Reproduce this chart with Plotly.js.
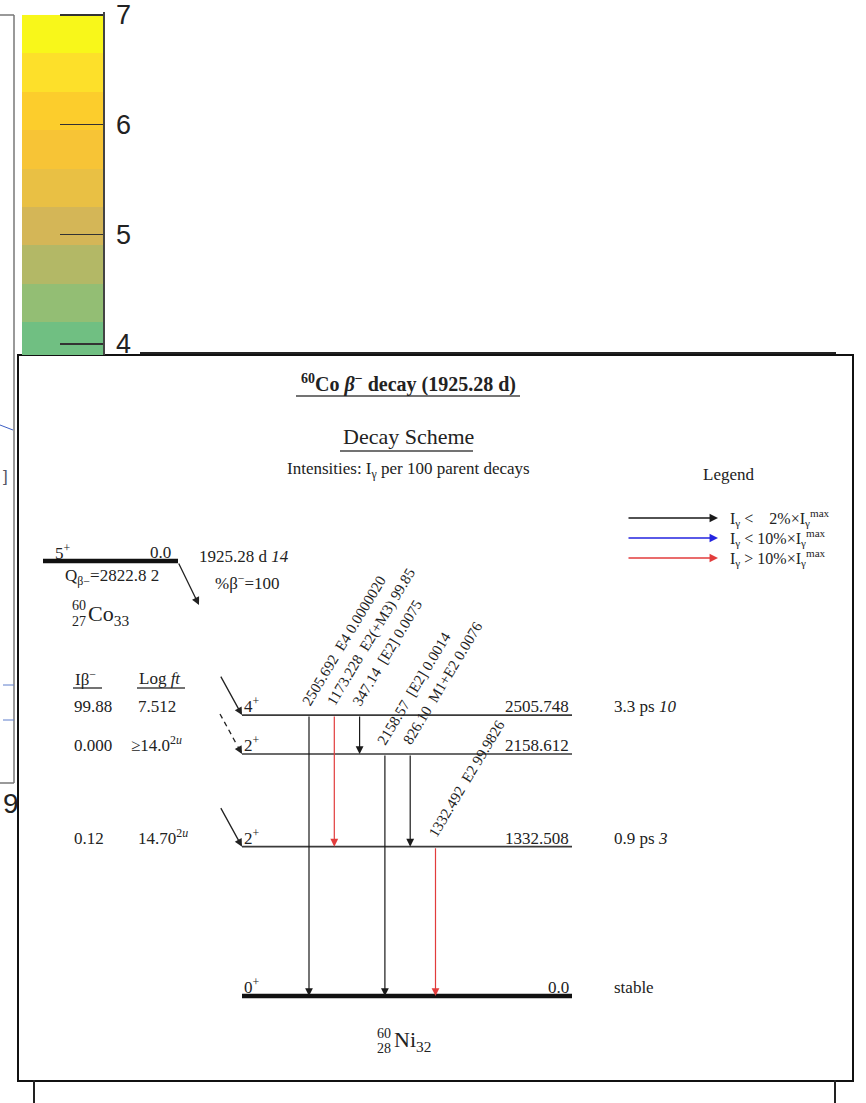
<!DOCTYPE html>
<html>
<head>
<meta charset="utf-8">
<script src="https://cdn.plot.ly/plotly-3.0.1.min.js"></script>
<style>
  html, body { margin: 0; padding: 0; background: #fff; }
  #chart { width: 866px; height: 1103px; }
</style>
</head>
<body>
<div id="chart"></div>
<script>
// ---------- 60Co beta-minus decay to 60Ni ----------
const levelEnergyLabels = ['0.0', '1332.508', '2158.612', '2505.748'];
const levelSpins = ['0<sup>+</sup>', '2<sup>+</sup>', '2<sup>+</sup>', '4<sup>+</sup>'];
const levelHalfLives = ['stable', '0.9 ps <i>3</i>', '', '3.3 ps <i>10</i>'];
const betaIntensities = ['', '0.12', '0.000', '99.88'];
const betaLogFt = ['', '14.70<sup>2<i>u</i></sup>', '≥14.0<sup>2<i>u</i></sup>', '7.512'];

const gammaEnergyLabels = ['2505.692', '1173.228', '347.14', '2158.57', '826.10', '1332.492'];
const gammaMultipolarities = ['E4', 'E2(+M3)', '[E2]', '[E2]', 'M1+E2', 'E2'];
const gammaIntensityLabels = ['0.0000020', '99.85', '0.0075', '0.0014', '0.0076', '99.9826'];
const gammaFromLevels = ['2505.748', '2505.748', '2505.748', '2158.612', '2158.612', '1332.508'];

const parentSpin = '5<sup>+</sup>';
const parentEnergy = '0.0';
const parentHalfLife = '1925.28 d <i>14</i>';
const parentQValue = 'Q<sub>β−</sub>=2822.8 2';
const parentBranching = '%β<sup>−</sup>=100';

// colour-scale panel in the upper left
const scaleLevels = [3.675, 4.025, 4.375, 4.725, 5.075, 5.425, 5.775, 6.125, 6.475, 6.825];
const scaleColors = ['#5fbf88', '#70bf82', '#93be74', '#b3b866', '#d4b657',
                     '#e9c044', '#f7c436', '#fccd2c', '#fde02a', '#f8f71a'];
const scaleTicks = [4, 5, 6, 7];

// ---------- page geometry (pixels) ----------
const W = 866, H = 1103;
const PX = px => px / W;
const PY = py => 1 - py / H;

const BOX = { l: 19, r: 852, t: 356, b: 1080 };
const COL0 = 309, COLSTEP = 25.3;          // first gamma column, column spacing
const ZERO_PX = 996, PX_PER_KEV = 0.1121;  // ground-state line, vertical scale
const X = px => (px - COL0) / COLSTEP;
const Y = py => (ZERO_PX - py) / PX_PER_KEV;
const LEVEL_L = 242, LEVEL_R = 572;

const SERIF = 'Liberation Serif, Times New Roman, serif';
const SANS = 'Liberation Sans, Arial, sans-serif';
const INK = '#222';

const levelEnergies = levelEnergyLabels.map(Number);
const gammaEnergies = gammaEnergyLabels.map(Number);
const gammaIntensities = gammaIntensityLabels.map(Number);
const gammaFrom = gammaFromLevels.map(Number);
const gammaTo = gammaEnergies.map((eg, i) => {
  const target = gammaFrom[i] - eg;
  return levelEnergies.reduce((best, e) => Math.abs(e - target) < Math.abs(best - target) ? e : best);
});
const maxIntensity = Math.max(...gammaIntensities);
const COLORS = { weak: '#1a1a1a', medium: '#2424e0', strong: '#e23c3c' };
const gammaColor = I => {
  const r = I / maxIntensity;
  return r < 0.02 ? COLORS.weak : (r < 0.10 ? COLORS.medium : COLORS.strong);
};

// ---------- traces ----------
const traces = [];

// colour-scale heatmap
const sMin = Math.min(...scaleLevels), sMax = Math.max(...scaleLevels);
traces.push({
  type: 'heatmap', xaxis: 'x2', yaxis: 'y2',
  x: [0], y: scaleLevels, z: scaleLevels.map(v => [v]),
  zmin: sMin, zmax: sMax, zsmooth: false,
  colorscale: scaleLevels.map((v, i) => [(v - sMin) / (sMax - sMin), scaleColors[i]]),
  showscale: false, hoverinfo: 'skip'
});

// daughter levels
levelEnergies.forEach((e, k) => {
  traces.push({
    type: 'scatter', mode: 'lines', xaxis: 'x', yaxis: 'y',
    x: [X(LEVEL_L), X(LEVEL_R)], y: [e, e],
    line: { color: k === 0 ? '#111' : '#3a3a3a', width: k === 0 ? 4.5 : 1.6 },
    hoverinfo: 'skip', showlegend: false
  });
});

// ---------- annotations & shapes ----------
const ann = [];
const shapes = [];
const text = (px, py, t, o = {}) => ann.push(Object.assign({
  xref: 'paper', yref: 'paper', x: PX(px), y: PY(py), text: t, showarrow: false,
  xanchor: 'left', yanchor: 'middle', font: { family: SERIF, size: 17, color: INK }
}, o));
const hline = (x0, x1, y, w = 1.5, c = '#444') => shapes.push({
  type: 'line', xref: 'paper', yref: 'paper', x0: PX(x0), x1: PX(x1), y0: PY(y), y1: PY(y),
  line: { color: c, width: w }
});
const vline = (x, y0, y1, w = 1.5, c = '#444') => shapes.push({
  type: 'line', xref: 'paper', yref: 'paper', x0: PX(x), x1: PX(x), y0: PY(y0), y1: PY(y1),
  line: { color: c, width: w }
});

// neighbouring panels around the scheme
vline(14, 15, 783, 1.5, '#777');
hline(0, 14, 15, 1.5, '#777');
hline(0, 14, 783, 1.5, '#777');
shapes.push({ type: 'line', xref: 'paper', yref: 'paper', x0: PX(0), y0: PY(425), x1: PX(13), y1: PY(430),
  line: { color: '#3d5fc4', width: 1 } });
hline(3, 14, 685, 1, '#5f7fcc');
hline(3, 14, 720, 1, '#5f7fcc');
text(1, 476, ']', { font: { family: SANS, size: 17, color: '#556' } });
text(21, 803, '9', { xanchor: 'right', font: { family: SANS, size: 28, color: INK } });
hline(140, 836, 353, 2, '#222');
vline(34, 1080, 1103, 2, '#222');
vline(835, 1080, 1103, 2, '#222');

// headings
text(408, 383, '<b><sup>60</sup>Co <i>β</i><sup>−</sup> decay (1925.28 d)</b>',
  { xanchor: 'center', font: { family: SERIF, size: 20, color: INK } });
hline(296, 520, 396);
text(408, 436, 'Decay Scheme', { xanchor: 'center', font: { family: SERIF, size: 22, color: INK } });
hline(340, 473, 451);
text(408, 470, 'Intensities: I<sub>γ</sub> per 100 parent decays', { xanchor: 'center' });

// legend
text(728, 475, 'Legend', { xanchor: 'center' });
const legendRows = [
  ['I<sub>γ</sub> &lt;  \u00a0 2%×I<sub>γ</sub><sup>max</sup>', COLORS.weak],
  ['I<sub>γ</sub> &lt; 10%×I<sub>γ</sub><sup>max</sup>', COLORS.medium],
  ['I<sub>γ</sub> &gt; 10%×I<sub>γ</sub><sup>max</sup>', COLORS.strong]
];
legendRows.forEach(([t, c], i) => {
  const y = 518 + 20 * i;
  ann.push({ xref: 'paper', yref: 'paper', x: PX(718), y: PY(y), ax: -91, ay: 0, text: '',
    showarrow: true, arrowhead: 2, arrowsize: 1.3, arrowwidth: 1.3, arrowcolor: c, standoff: 0 });
  text(728, y, t, { font: { family: SERIF, size: 16, color: INK } });
});

// parent state
hline(43, 178, 561, 4.5, '#111');
text(53, 552, parentSpin);
text(173, 552, parentEnergy, { xanchor: 'right' });
text(63, 577, parentQValue);
text(197, 556, parentHalfLife);
text(213, 582, parentBranching);
text(88, 605, '60', { xanchor: 'right', font: { family: SERIF, size: 14, color: INK } });
text(88, 621, '27', { xanchor: 'right', font: { family: SERIF, size: 14, color: INK } });
text(86, 615, 'Co<sub>33</sub>', { font: { family: SERIF, size: 22, color: INK } });
ann.push({ xref: 'paper', yref: 'paper', x: PX(199), y: PY(605), ax: -21, ay: -43, text: '',
  showarrow: true, arrowhead: 2, arrowsize: 1.2, arrowwidth: 1.3, arrowcolor: INK, standoff: 0 });

// beta-feeding columns
text(73, 678, 'Iβ<sup>−</sup>');
hline(73, 102, 688);
text(137, 678, 'Log <i>ft</i>');
hline(137, 185, 688);

const onLevel = (xpx, e, t, o = {}) => ann.push(Object.assign({
  xref: 'x', yref: 'y', x: X(xpx), y: e, text: t, showarrow: false,
  xanchor: 'left', yanchor: 'bottom', yshift: -3,
  font: { family: SERIF, size: 17, color: INK }
}, o));

levelEnergies.forEach((e, k) => {
  onLevel(LEVEL_L, e, levelSpins[k], { xshift: 0 });
  onLevel(LEVEL_R, e, levelEnergyLabels[k], { xanchor: 'right', xshift: -1 });
  if (levelHalfLives[k]) onLevel(612, e, levelHalfLives[k]);
  if (betaIntensities[k] !== '') {
    onLevel(72, e, betaIntensities[k]);
    onLevel(betaLogFt[k].startsWith('≥') ? 129 : 136, e, betaLogFt[k]);
    const fed = Number(betaIntensities[k]) > 0;
    if (fed) {
      ann.push({ xref: 'x', yref: 'y', x: X(LEVEL_L), y: e, ax: -22, ay: -40, text: '',
        showarrow: true, arrowhead: 2, arrowsize: 1.2, arrowwidth: 1.3, arrowcolor: INK, standoff: 0 });
    } else {
      shapes.push({ type: 'line', xref: 'x', yref: 'y',
        x0: X(LEVEL_L - 22), y0: e + 40 / PX_PER_KEV, x1: X(LEVEL_L - 5), y1: e + 9 / PX_PER_KEV,
        line: { color: INK, width: 1.3, dash: '5px,4px' } });
      ann.push({ xref: 'x', yref: 'y', x: X(LEVEL_L), y: e, ax: -5, ay: -9, text: '',
        showarrow: true, arrowhead: 2, arrowsize: 1.2, arrowwidth: 1.3, arrowcolor: INK, standoff: 0 });
    }
  }
});

// gamma transitions
gammaEnergies.forEach((eg, i) => {
  const c = gammaColor(gammaIntensities[i]);
  ann.push({ xref: 'x', yref: 'y', axref: 'x', ayref: 'y',
    x: i, y: gammaTo[i], ax: i, ay: gammaFrom[i], text: '',
    showarrow: true, arrowhead: 2, arrowsize: 1.3, arrowwidth: 1.2, arrowcolor: c, standoff: 0 });
  ann.push({ xref: 'x', yref: 'y', x: i, y: gammaFrom[i],
    text: gammaEnergyLabels[i] + ' \u00a0' + gammaMultipolarities[i] + ' ' + gammaIntensityLabels[i],
    showarrow: false, textangle: -59, xanchor: 'left', yanchor: 'bottom', xshift: -13, yshift: 4,
    font: { family: SERIF, size: 15, color: INK } });
});

// daughter nucleus
text(393, 1033, '60', { xanchor: 'right', font: { family: SERIF, size: 14, color: INK } });
text(393, 1048, '28', { xanchor: 'right', font: { family: SERIF, size: 14, color: INK } });
text(392, 1041, 'Ni<sub>32</sub>', { font: { family: SERIF, size: 22, color: INK } });

// ---------- layout ----------
const layout = {
  width: W, height: H,
  margin: { l: 0, r: 0, t: 0, b: 0, pad: 0 },
  paper_bgcolor: '#fff', plot_bgcolor: '#fff',
  showlegend: false,
  xaxis: {
    domain: [PX(BOX.l), PX(BOX.r)], range: [X(BOX.l), X(BOX.r)],
    showline: true, mirror: true, linecolor: '#111', linewidth: 2,
    showgrid: false, zeroline: false, showticklabels: false, ticks: '', fixedrange: true
  },
  yaxis: {
    domain: [PY(BOX.b), PY(BOX.t)], range: [Y(BOX.b), Y(BOX.t)],
    showline: true, mirror: true, linecolor: '#111', linewidth: 2,
    showgrid: false, zeroline: false, showticklabels: false, ticks: '', fixedrange: true
  },
  xaxis2: {
    domain: [PX(22), PX(103)], range: [-0.5, 0.5], anchor: 'y2',
    visible: false, fixedrange: true
  },
  yaxis2: {
    domain: [PY(355), PY(12)], range: [3.9, 7.0273], anchor: 'x2', side: 'right',
    tickvals: scaleTicks, ticks: 'inside', ticklen: 43, tickwidth: 1.5, tickcolor: '#333',
    showline: true, linecolor: '#444', linewidth: 1.5,
    showgrid: false, zeroline: false, ticklabelstandoff: 6,
    tickfont: { family: SANS, size: 27, color: INK }, fixedrange: true
  },
  annotations: ann,
  shapes: shapes
};

Plotly.newPlot('chart', traces, layout, { staticPlot: true, displayModeBar: false });
</script>
</body>
</html>
